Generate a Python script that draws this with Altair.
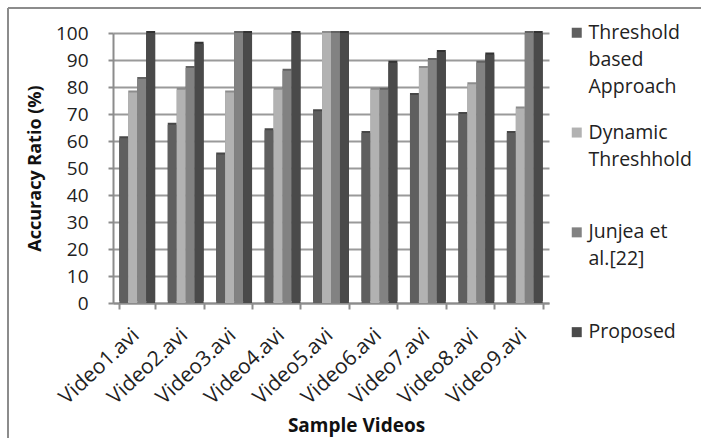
import altair as alt
import pandas as pd

# Accuracy ratio (%) per sample video for each method
videos = ["Video1.avi", "Video2.avi", "Video3.avi", "Video4.avi", "Video5.avi",
          "Video6.avi", "Video7.avi", "Video8.avi", "Video9.avi"]
series = ["Threshold based Approach", "Dynamic Threshhold", "Junjea et al.[22]", "Proposed"]
threshold = [61, 66, 55, 64, 71, 63, 77, 70, 63]
dynamic = [78, 79, 78, 79, 100, 79, 87, 81, 72]
junjea = [83, 87, 100, 86, 100, 79, 90, 89, 100]
proposed = [100, 96, 100, 100, 100, 89, 93, 92, 100]
y_ticks = [0, 10, 20, 30, 40, 50, 60, 70, 80, 90, 100]

front_colors = ["#5f5f5f", "#b2b2b2", "#828282", "#4a4a4a"]
side_colors = ["#474747", "#8c8c8c", "#636363", "#333333"]

rows = []
for name, vals in zip(series, [threshold, dynamic, junjea, proposed]):
    for v, val in zip(videos, vals):
        rows.append({"video": v, "method": name, "accuracy": val})
df = pd.DataFrame(rows)

FONT = "Open Sans"
W, H = 452, 270          # plot area
X_RANGE = 436            # category band extent (floor continues to the right)

x_enc = alt.X("video:N", sort=videos,
              scale=alt.Scale(range=[0, X_RANGE], paddingInner=0.26, paddingOuter=0.13),
              axis=alt.Axis(title="Sample Videos", labelAngle=-43, labelFontSize=21,
                            labelPadding=15, labelOffset=-9,
                            titleFontSize=19, titleFontWeight="bold",
                            titleX=243, titleY=113, titleAnchor="middle",
                            tickBand="extent",
                            tickSize=6, domainColor="#8c8c8c", tickColor="#8c8c8c",
                            labelColor="#222222", titleColor="#111111",
                            domainWidth=2, tickWidth=2))
xoff = alt.XOffset("method:N", sort=series, scale=alt.Scale(paddingInner=0, paddingOuter=0))
y_enc = alt.Y("accuracy:Q", scale=alt.Scale(domain=[0, 100], nice=False),
              axis=alt.Axis(title="Accuracy Ratio (%)", values=y_ticks, labelFontSize=19,
                            labelPadding=20, titleFontSize=18, titleFontWeight="bold",
                            titlePadding=11, tickSize=5, grid=True,
                            gridColor="#9a9a9a", gridWidth=2,
                            domainColor="#8c8c8c", tickColor="#8c8c8c", domainWidth=2,
                            tickWidth=2, labelColor="#222222", titleColor="#111111"))

# darker right-hand faces give the columns a shallow 3-D look
sides = alt.Chart(df).mark_bar(xOffset=2.5, yOffset=-2).encode(
    x=x_enc, xOffset=xoff, y=y_enc,
    color=alt.Color("method:N", sort=series,
                    scale=alt.Scale(domain=series, range=side_colors), legend=None),
)

fronts = alt.Chart(df).mark_bar(xOffset=1.5).encode(
    x=x_enc, xOffset=xoff, y=y_enc,
    color=alt.Color("method:N", sort=series,
                    scale=alt.Scale(domain=series, range=front_colors),
                    legend=alt.Legend(
                        title=None, orient="none", legendX=454, legendY=-10,
                        symbolType="square", symbolSize=100, symbolStrokeWidth=0,
                        labelFontSize=19.5, labelOffset=2, rowPadding=24.8, padding=0,
                        labelColor="#222222", labelLimit=300,
                        labelExpr=(
                            "datum.label == 'Threshold based Approach' ? ['Threshold','based','Approach'] : "
                            "datum.label == 'Dynamic Threshhold' ? ['Dynamic','Threshhold',''] : "
                            "datum.label == 'Junjea et al.[22]' ? ['Junjea et','al.[22]',''] : "
                            "['Proposed','','']"
                        ))),
)

# outer frame lines (left and top edges)
frame_left = alt.Chart(pd.DataFrame({"k": [0]})).mark_rule(color="#8c8c8c", strokeWidth=2).encode(
    x=alt.value(-105), y=alt.value(-25), y2=alt.value(420))
frame_top = alt.Chart(pd.DataFrame({"k": [0]})).mark_rule(color="#8c8c8c", strokeWidth=2).encode(
    x=alt.value(-105), x2=alt.value(600), y=alt.value(-25))

chart = alt.layer(sides, fronts, frame_left, frame_top).resolve_scale(color="independent").properties(
    width=W, height=H,
    autosize=alt.AutoSizeParams(type="none"),
    padding={"left": 113, "top": 33, "right": 701 - 113 - W, "bottom": 438 - 33 - H},
    background="white",
).configure(
    font=FONT, style={"guide-label": {"lineHeight": 27}}
).configure_view(stroke=None)

chart.save("out.html", embed_options={"renderer": "svg", "actions": False})
